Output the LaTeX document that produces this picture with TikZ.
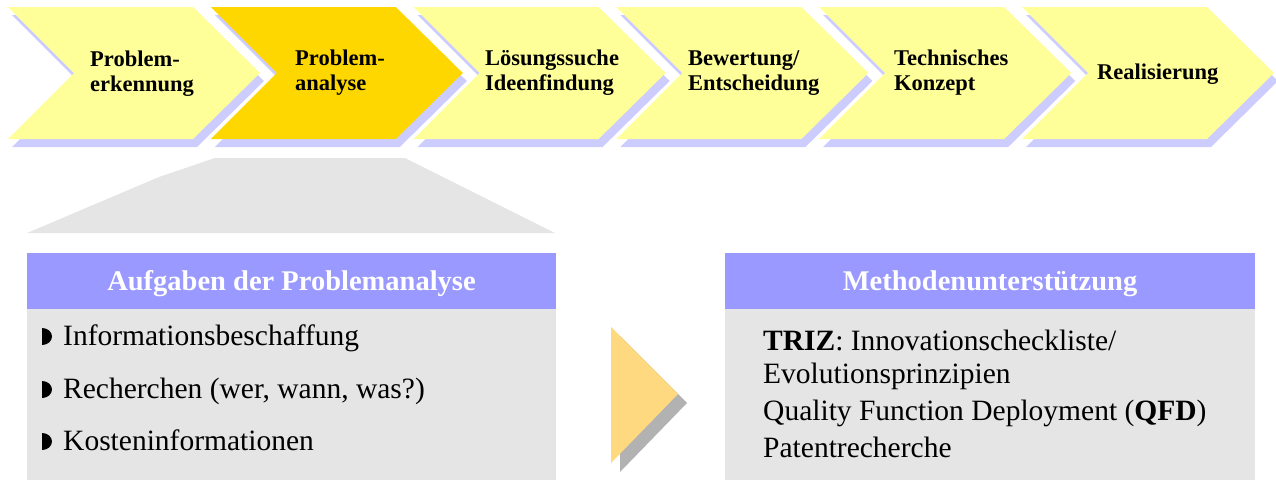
\documentclass[tikz,border=0pt]{standalone}
\usepackage{fontspec}
\setmainfont{Liberation Serif}
\usetikzlibrary{positioning}
\definecolor{chevyel}{RGB}{255,255,153}
\definecolor{chevgold}{RGB}{255,215,0}
\definecolor{chevshd}{RGB}{204,204,255}
\definecolor{barblue}{RGB}{153,153,255}
\definecolor{panelgray}{RGB}{229,229,229}
\definecolor{arrowyel}{RGB}{255,217,128}
\definecolor{arrowshd}{RGB}{178,178,178}

\begin{document}
\begin{tikzpicture}[x=1pt,y=-1pt,
  phase/.style={anchor=west,align=left,inner sep=0pt,font=\fontsize{22.5}{25}\selectfont\bfseries},
  bar/.style={fill=barblue,text=white,inner sep=0pt,minimum height=56pt,text height=19pt,text depth=1pt,font=\fontsize{28.5}{30}\selectfont\bfseries},
  panel/.style={fill=panelgray,inner sep=0pt,minimum height=171pt},
  item/.style={anchor=base west,inner sep=0pt,font=\fontsize{29.5}{33}\selectfont}]
\useasboundingbox (0,0) rectangle (1276,483);
\foreach \x/\c in {8/chevyel,210.8/chevgold,413.6/chevyel,616.4/chevyel,819.2/chevyel,1022/chevyel}{
  \fill[chevshd,shift={(4,8)}] (\x,7) -- ++(185,0) -- ++(67,66) -- ++(-67,66) -- ++(-185,0) -- ++(66,-66) -- cycle;
  \fill[\c] (\x,7) -- ++(185,0) -- ++(67,66) -- ++(-67,66) -- ++(-185,0) -- ++(66,-66) -- cycle;
}
\node[phase] (erkennung) at (90,74) {Problem-\\erkennung};
\node[phase] (analyse) at (295,73) {Problem-\\analyse};
\node[phase] (suche) at (485,73) {Lösungssuche\\Ideenfindung};
\node[phase] (bewertung) at (688,73) {Bewertung/\\Entscheidung};
\node[phase] (konzept) at (894,73) {Technisches\\Konzept};
\node[phase] (realisierung) at (1097,74) {Realisierung};
\fill[panelgray] (215,158) -- (405,158) -- (555,233) -- (27,233) -- (159,177) -- cycle;
\node[bar,minimum width=529pt] (aufgaben) at (291.5,281) {Aufgaben der Problemanalyse};
\node[panel,minimum width=529pt,below=0pt of aufgaben] (aufgabenbody) {};
\foreach \y in {345,398,450}
  \fill (42,\y-17) arc[start angle=90,end angle=-90,x radius=10pt,y radius=8.5pt] -- cycle;
\node[item] (info) at (63,345) {Informationsbeschaffung};
\node[item] (recherchen) at (63,398) {Recherchen (wer, wann, was?)};
\node[item] (kosten) at (63,450) {Kosteninformationen};
\fill[arrowshd] (620,336) -- (687,403) -- (620,472) -- cycle;
\fill[arrowyel] (611,327) -- (678,394) -- (611,463) -- cycle;
\node[bar,minimum width=530pt] (methoden) at (990,281) {Methodenunterstützung};
\node[panel,minimum width=530pt,below=0pt of methoden] (methodenbody) {};
\node[item] (triz) at (763,350) {\textbf{TRIZ}: Innovationscheckliste/};
\node[item] (evolution) at (763,383) {Evolutionsprinzipien};
\node[item] (qfd) at (763,420) {Quality Function Deployment (\textbf{QFD})};
\node[item] (patent) at (763,457) {Patentrecherche};
\end{tikzpicture}
\end{document}
